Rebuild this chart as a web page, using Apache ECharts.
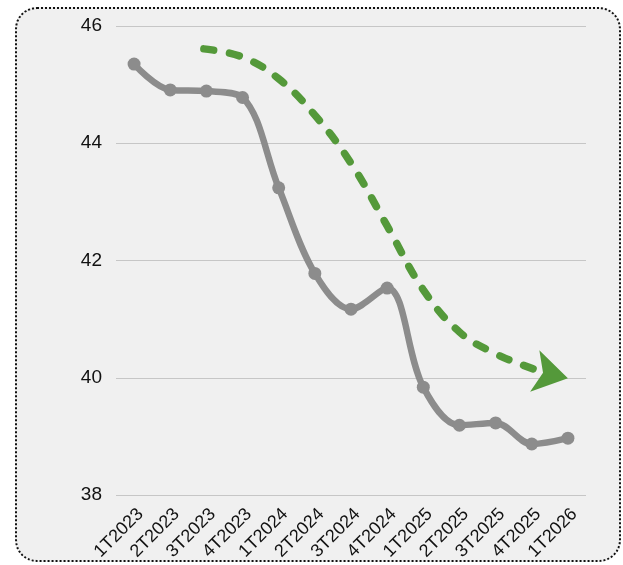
<!DOCTYPE html>
<html>
<head>
<meta charset="utf-8">
<script src="https://cdn.jsdelivr.net/npm/echarts@6/dist/echarts.min.js"></script>
<style>
  html, body { margin: 0; padding: 0; background: #ffffff; }
  #frame {
    position: absolute; left: 15px; top: 7px; width: 602px; height: 551px;
    background: #f0f0f0; border: 2px dotted #111; border-radius: 22px;
  }
  #chart { position: absolute; left: 0; top: 0; width: 623px; height: 565px; }
</style>
</head>
<body>
<div id="frame"></div>
<div id="chart"></div>
<script>
// Quarterly categories
const quarters = ['1T2023', '2T2023', '3T2023', '4T2023', '1T2024', '2T2024', '3T2024',
                  '4T2024', '1T2025', '2T2025', '3T2025', '4T2025', '1T2026'];
// Observed values per quarter
const values = [45.35, 44.91, 44.89, 44.78, 43.24, 41.78, 41.17, 41.53, 39.84, 39.19, 39.23, 38.87, 38.97];
// Trend arrow path, as [quarter index, value]
const trendPath = [[1.93, 45.61], [3, 45.47], [4, 45.10], [5, 44.48], [6, 43.66], [7, 42.59],
                   [8, 41.50], [9, 40.78], [10, 40.41], [11, 40.16], [11.35, 40.10]];
// Arrow tip, as [quarter index, value]
const trendTip = [[12.0, 39.99]];
// Value axis ticks
const yTicks = { min: 38, max: 46, step: 2 };

const gray = '#8c8c8c';
const green = '#54993a';
const font = 'Liberation Sans, Arial, sans-serif';

const chart = echarts.init(document.getElementById('chart'), null, { renderer: 'canvas' });
chart.setOption({
  backgroundColor: 'transparent',
  animation: false,
  grid: { left: 116, right: 37, top: 26, bottom: 70, containLabel: false },
  xAxis: [{
    type: 'category',
    data: quarters,
    boundaryGap: true,
    axisLine: { show: false },
    axisTick: { show: false },
    axisLabel: {
      rotate: 45, margin: 10, interval: 0, verticalAlign: 'top',
      color: '#111', fontSize: 18, fontFamily: font
    }
  }, {
    type: 'value', min: -0.5, max: 12.5, show: false
  }],
  yAxis: {
    type: 'value',
    min: yTicks.min, max: yTicks.max, interval: yTicks.step,
    axisLine: { show: false },
    axisTick: { show: false },
    axisLabel: { margin: 14, color: '#111', fontSize: 19, fontFamily: font },
    splitLine: { lineStyle: { color: '#c6c6c6', width: 1 } }
  },
  series: [{
    type: 'line',
    data: values,
    smooth: 0.35,
    symbol: 'circle',
    symbolSize: 13,
    lineStyle: { color: gray, width: 6.5 },
    itemStyle: { color: gray },
    z: 3
  }, {
    type: 'line',
    xAxisIndex: 1,
    data: trendPath,
    smooth: 0.4,
    symbol: 'none',
    lineStyle: { color: green, width: 7.5, type: [10, 16], cap: 'round' },
    z: 2
  }, {
    type: 'scatter',
    xAxisIndex: 1,
    data: trendTip,
    symbol: 'arrow',
    symbolSize: [32, 34],
    symbolRotate: -102.5,
    itemStyle: { color: green, opacity: 1 },
    z: 2
  }]
});
</script>
</body>
</html>
